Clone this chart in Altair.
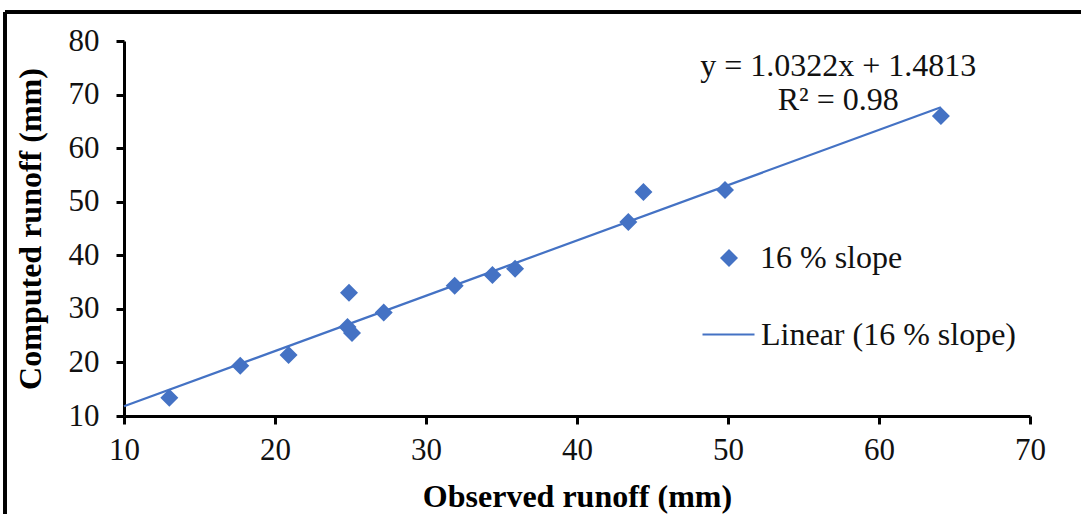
import altair as alt
import pandas as pd

# Observed vs computed runoff (mm), 16 % slope
observed = [13.0, 17.7, 20.9, 24.9, 24.8, 25.1, 27.2, 31.9, 34.4, 35.9, 43.4, 44.4, 49.8, 64.1]
computed = [13.4, 19.4, 21.4, 33.0, 26.6, 25.5, 29.3, 34.3, 36.3, 37.5, 46.2, 51.8, 52.2, 66.0]

# Trendline as stated on the chart: y = 1.0322x + 1.4813
slope_coef = 1.0322
intercept = 1.4813
trend_x = [10.0, 64.1]

series_names = ["16 % slope", "Linear (16 % slope)"]

eq_lines = ["y = 1.0322x + 1.4813", "R\u00b2 = 0.98"]
eq_x = [57.3, 57.3]
eq_y = [75.3, 68.9]

x_ticks = [10, 20, 30, 40, 50, 60, 70]
y_ticks = [10, 20, 30, 40, 50, 60, 70, 80]

BLUE = "#4472C4"
FONT = "Liberation Serif"
TXT = "#111111"

pts = pd.DataFrame({"obs": observed, "comp": computed, "series": series_names[0]})
trend = pd.DataFrame({"obs": trend_x, "comp": [slope_coef * v + intercept for v in trend_x],
                      "series": series_names[1]})
eq = pd.DataFrame({"obs": eq_x, "comp": eq_y, "label": eq_lines})

xscale = alt.Scale(domain=[10, 70], nice=False, zero=False)
yscale = alt.Scale(domain=[10, 80], nice=False, zero=False)

xaxis = alt.Axis(
    values=x_ticks, title="Observed runoff (mm)", grid=False,
    domainColor="black", domainWidth=3, tickColor="black", tickWidth=3, tickSize=8,
    labelFont=FONT, labelFontSize=31, labelColor=TXT, labelPadding=11,
    labelFlush=False, labelOverlap=False,
    titleFont=FONT, titleFontSize=32, titleFontWeight="bold", titleColor="black",
    titleX=453, titleY=80, titleBaseline="middle", titleAnchor="middle",
)
yaxis = alt.Axis(
    values=y_ticks, title="Computed runoff (mm)", grid=False,
    domainColor="black", domainWidth=3, tickColor="black", tickWidth=3, tickSize=8,
    labelFont=FONT, labelFontSize=31, labelColor=TXT, labelPadding=17,
    labelFlush=False, labelOverlap=False,
    titleFont=FONT, titleFontSize=32, titleFontWeight="bold", titleColor="black",
    titleX=-94, titleY=187.5, titleBaseline="middle", titleAngle=-90,
)

points = alt.Chart(pts).mark_point(shape="diamond", filled=True, size=324, opacity=1).encode(
    x=alt.X("obs:Q", scale=xscale, axis=xaxis),
    y=alt.Y("comp:Q", scale=yscale, axis=yaxis),
    color=alt.Color(
        "series:N",
        scale=alt.Scale(domain=[series_names[0]], range=[BLUE]),
        legend=alt.Legend(
            title=None, orient="none", legendX=589, legendY=201, padding=0,
            symbolType="diamond", symbolSize=324, labelFont=FONT, labelFontSize=32,
            labelColor=TXT, labelOffset=15, symbolOpacity=1, labelLimit=0,
        ),
    ),
)

line = alt.Chart(trend).mark_line(strokeWidth=2.2).encode(
    x=alt.X("obs:Q", scale=xscale),
    y=alt.Y("comp:Q", scale=yscale),
    color=alt.Color(
        "series:N",
        scale=alt.Scale(domain=[series_names[1]], range=[BLUE]),
        legend=alt.Legend(
            title=None, orient="none", legendX=577, legendY=266, padding=0,
            symbolType="stroke", symbolSize=2704, symbolStrokeWidth=2.2,
            labelFont=FONT, labelFontSize=32, labelColor=TXT, labelOffset=5,
            labelLimit=0,
        ),
    ),
)

eq_text = alt.Chart(eq).mark_text(font=FONT, fontSize=32, color=TXT, align="center", baseline="middle").encode(
    x=alt.X("obs:Q", scale=xscale),
    y=alt.Y("comp:Q", scale=yscale),
    text="label:N",
)

frame_top = alt.Chart(pts).mark_rule(color="black", strokeWidth=2.5).encode(
    x=alt.value(-119), x2=alt.value(960), y=alt.value(-29)
)
frame_left = alt.Chart(pts).mark_rule(color="black", strokeWidth=2.5).encode(
    x=alt.value(-119), y=alt.value(-29), y2=alt.value(480)
)

chart = alt.layer(frame_top, frame_left, line, points, eq_text).resolve_scale(
    color="independent"
).properties(
    width=906, height=375,
    autosize=alt.AutoSizeParams(type="none"),
    padding={"left": 124, "top": 41, "right": 51, "bottom": 98},
    background="white",
).configure_view(stroke=None)

chart.save("out.html", embed_options={"renderer": "svg", "actions": False})
